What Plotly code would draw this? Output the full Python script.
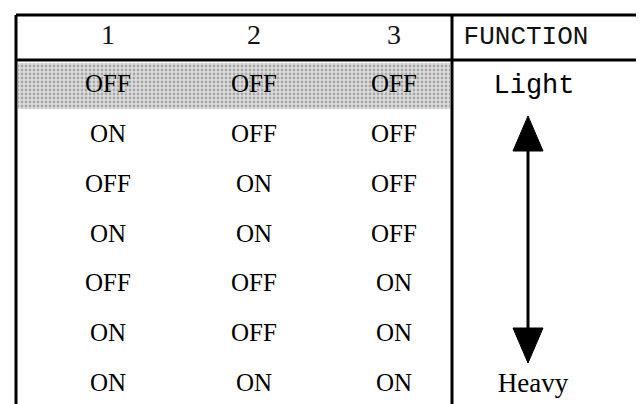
import plotly.graph_objects as go

# ---- data ----
headers = ["1", "2", "3", "FUNCTION"]
switch1 = ["OFF", "ON", "OFF", "ON", "OFF", "ON", "ON"]
switch2 = ["OFF", "OFF", "ON", "ON", "OFF", "OFF", "ON"]
switch3 = ["OFF", "OFF", "OFF", "OFF", "ON", "ON", "ON"]
function = ["Light", "", "", "", "", "", "Heavy"]
highlight_row = 0

# ---- layout constants ----
W, H = 644, 404
X_LEFT, X_SEP, X_RIGHT = 8, 444, 644
Y_TOP, Y_HEAD, Y_BOTTOM = 7, 52, 402
col_x = [100, 246, 386, 521]
row0_y, row_h = 78, 49.8
head_y = 29

fig = go.Figure()

n = len(switch1)
row_y = [row0_y + i * row_h for i in range(n)]

# highlighted (stippled) row as a patterned bar
fig.add_trace(go.Bar(
    x=[(X_LEFT + X_SEP) / 2], y=[46], base=[row_y[highlight_row] - 23],
    width=[X_SEP - X_LEFT - 4],
    marker=dict(color="#dcdcdc", line=dict(width=0),
                pattern=dict(shape=".", fgcolor="#6e6e6e", bgcolor="#dedede",
                             size=4, solidity=0.4)),
    hoverinfo="skip", showlegend=False))

# header texts
fig.add_trace(go.Scatter(
    x=col_x[:3], y=[head_y] * 3, mode="text", text=headers[:3],
    textfont=dict(family="Liberation Serif", size=28, color="#111"),
    hoverinfo="skip", showlegend=False))
fig.add_trace(go.Scatter(
    x=[col_x[3] - 3], y=[head_y], mode="text", text=[headers[3]],
    textfont=dict(family="Liberation Mono", size=26, color="#111"),
    hoverinfo="skip", showlegend=False))

# switch cells
for ci, col in enumerate([switch1, switch2, switch3]):
    fig.add_trace(go.Scatter(
        x=[col_x[ci]] * n, y=row_y, mode="text", text=col,
        textfont=dict(family="Liberation Serif", size=25, color="#000"),
        hoverinfo="skip", showlegend=False))

# function column
fig.add_trace(go.Scatter(
    x=[col_x[3] + 5, col_x[3] + 4], y=[row_y[0], row_y[-1]], mode="text",
    text=[function[0], function[-1]],
    textfont=dict(family=["Liberation Mono", "Liberation Serif"], size=[27, 27], color="#000"),
    hoverinfo="skip", showlegend=False))

shapes = []
def line(x0, y0, x1, y1, w=3, c="#000"):
    shapes.append(dict(type="line", x0=x0, y0=y0, x1=x1, y1=y1,
                       line=dict(color=c, width=w), layer="above"))

line(X_LEFT, Y_TOP, X_RIGHT, Y_TOP)
line(X_LEFT, Y_HEAD, X_RIGHT, Y_HEAD)
line(X_LEFT, Y_TOP, X_LEFT, Y_BOTTOM)
line(X_SEP, Y_TOP, X_SEP, H)
line(X_LEFT, Y_BOTTOM, 62, Y_BOTTOM)
line(62, Y_BOTTOM, 115, Y_BOTTOM, w=2, c="#bbbbbb")

# double arrow
ax = col_x[3] - 1
up_tip, up_base = 108, 143
dn_base, dn_tip = 320, 355
hw = 15
line(ax, up_base - 2, ax, dn_base + 2, w=3)
shapes.append(dict(type="path",
                   path=f"M {ax} {up_tip} L {ax - hw} {up_base} L {ax + hw} {up_base} Z",
                   fillcolor="#000", line=dict(color="#000", width=1)))
shapes.append(dict(type="path",
                   path=f"M {ax} {dn_tip} L {ax - hw} {dn_base} L {ax + hw} {dn_base} Z",
                   fillcolor="#000", line=dict(color="#000", width=1)))

fig.update_layout(
    width=W, height=H, margin=dict(l=0, r=0, t=0, b=0),
    paper_bgcolor="white", plot_bgcolor="white",
    xaxis=dict(range=[0, W], visible=False, fixedrange=True),
    yaxis=dict(range=[H, 0], visible=False, fixedrange=True),
    shapes=shapes, bargap=0,
)

fig.write_html("out.html")
